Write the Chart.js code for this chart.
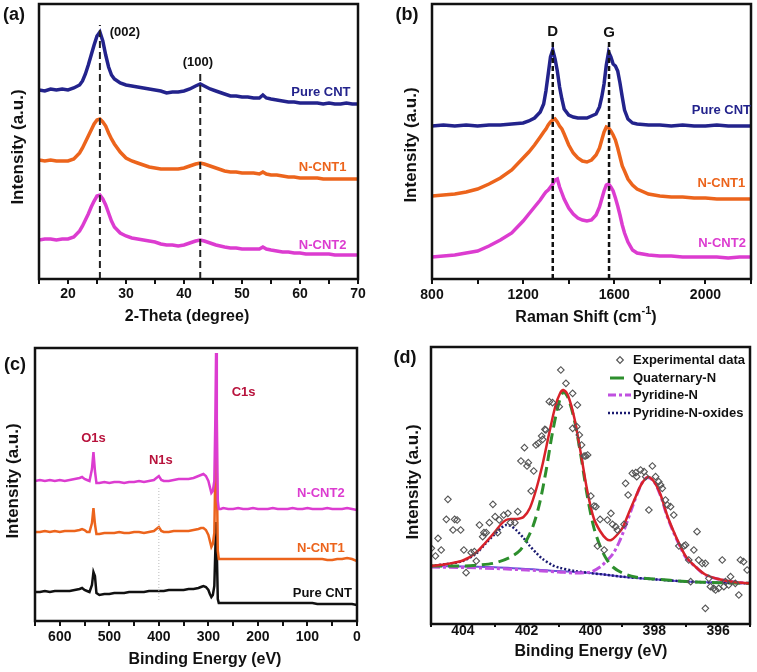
<!DOCTYPE html>
<html>
<head>
<meta charset="utf-8">
<script src="https://cdn.jsdelivr.net/npm/chart.js@4.4.1/dist/chart.umd.min.js"></script>
<style>
  html, body { margin: 0; padding: 0; background: #fff; }
  #wrap { position: relative; width: 757px; height: 672px; overflow: hidden; }
  canvas { position: absolute; }
</style>
</head>
<body>
<div id="wrap">
  <canvas id="chartA" width="378" height="330" style="left:0;top:0"></canvas>
  <canvas id="chartB" width="379" height="330" style="left:378px;top:0"></canvas>
  <canvas id="chartC" width="378" height="342" style="left:0;top:330px"></canvas>
  <canvas id="chartD" width="379" height="342" style="left:378px;top:330px"></canvas>
</div>
<script>
// ---- (a) XRD, stacked traces (a.u.) ----
var xrdTheta = [15,16,17,18,19,20,21,22,22.5,23, 23.5,24,24.5,25,25.5,26,26.5,27,27.5,28,
  29,30,31,32,33,34,35,36,37,38, 39,40,41,42,42.8,43.5,44.5,45.5,47,48,
  49,50,51,52,53,53.6,54.2,55,56,57, 58,59,60,61,62,63,64,65,66,67, 68,69,70];
var xrdPure = [189,188,190,189,190,189,191,194,198,205, 214,224,234,243,247,238,224,212,204,200,
  196,194,193,192,191,190,189,188,186,187, 187,188,190,193,195,193,190,188,185,183,
  183,182,182,181,181,184,181,180,179,178, 177,177,176,176,176,176,175,176,175,175, 176,175,175];
var xrdNCNT1 = [119,118,119,118,118,118,120,126,131,137, 143,149,155,159,160,157,153,146,140,135,
  127,121,118,116,114,112,111,110,110,110, 110,111,113,115,116,115,113,111,108,107,
  107,106,106,106,105,107,105,104,104,103, 102,102,101,101,101,101,100,100,100,100, 100,100,100];
var xrdNCNT2 = [39,40,40,39,40,40,42,48,53,59, 65,72,78,83,84,80,74,66,58,52,
  46,43,41,40,39,38,37,35,34,34, 33,34,36,38,39,38,36,34,32,31,
  31,30,30,30,30,32,30,29,28,27, 27,26,26,25,25,25,25,25,24,24, 24,24,24];
var xrdPeakPos = [25.5, 42.8];
var xrdPeakTop = [254, 205];

// ---- (b) Raman ----
var ramanShift = [800,850,900,950,1000,1050,1100,1150,1200,1225, 1250,1275,1290,1300,1310,1320,1330,1340,1350,1360,
  1370,1380,1400,1420,1440,1460,1480,1500,1520,1535, 1545,1555,1565,1575,1585,1595,1605,1615,1625,1635,
  1645,1660,1680,1700,1750,1800,1850,1900,1950,2000, 2050,2100,2150,2200];
var ramanPure = [153,154,153,154,153,154,154,155,156,158, 161,167,175,188,205,222,229,220,208,192,
  180,170,164,162,161,161,161,163,165,172, 182,195,214,227,222,215,213,208,196,182,
  169,160,156,155,154,154,153,154,153,153, 154,153,153,153];
var ramanNCNT1 = [83,84,85,87,90,95,101,109,121,127, 134,142,147,150,154,157,159,160,157,153,
  150,145,134,126,121,118,117,119,124,131, 139,147,152,151,148,144,139,131,122,113,
  108,100,94,90,85,83,82,82,81,81, 80,80,80,80];
var ramanNCNT2 = [22,23,24,26,28,33,39,46,58,65, 72,79,84,87,89,92,95,99,100,92,
  86,80,71,65,61,59,58,59,64,72, 80,88,94,95,92,88,81,73,64,54,
  46,37,29,26,24,23,23,22,22,22, 22,21,22,22];
var ramanBandPos = [1330, 1577];
var ramanBandTop = [237, 237];

// ---- (c) XPS survey ----
var xpsEnergy = [650,640,630,620,610,600,590,580,570,560, 555,550,545,540,535,532,529,526,520,510,
  500,490,480,470,460,450,440,430,420,410, 405,400,395,390,380,370,360,350,340,330,
  320,315,310,305,300,297,294,291,288,286, 284.5,283,281,279,275,270,260,250,240,230,
  220,210,200,190,180,170,160,150,140,130, 120,110,100,90,80,70,60,50,40,30, 20,10,0];
var xpsNCNT2 = [140,141,140,141,140,141,140,141,142,143, 144,142,141,140,152,169,150,138,138,139,
  138,139,139,138,139,139,140,139,140,141, 143,145,141,140,140,141,142,142,142,143,
  145,146,147,145,140,134,128,130,140,200, 268,200,120,112,112,113,112,112,113,112,
  112,113,112,112,112,113,112,112,112,113, 112,112,113,112,112,112,113,112,112,112, 113,112,111];
var xpsNCNT1 = [89,89,90,89,90,89,90,90,90,91, 92,91,89,89,98,113,97,87,87,88,
  88,88,89,88,88,89,89,88,89,90, 92,94,90,89,89,90,90,90,90,91,
  92,93,93,91,86,80,74,77,88,150, 201,150,70,62,62,62,62,62,62,62,
  62,62,62,62,62,62,62,62,62,62, 62,62,62,62,62,62,61,61,62,62, 63,62,60];
var xpsPure = [29,29,30,29,30,30,30,30,31,32, 33,31,30,29,36,49,45,28,26,27,
  27,28,28,28,29,29,29,29,30,30, 30,30,30,30,31,31,31,31,32,32,
  33,34,35,34,31,27,24,26,35,70, 99,70,22,18,18,18,18,18,18,18,
  18,18,18,18,18,18,18,18,18,18, 18,18,18,18,17,17,17,17,17,17, 17,17,16];
var xpsGuidePos = [400];
var xpsGuideSpan = [[21, 133]];

// ---- (d) N1s fit ----
var n1sExpX = [404.99,404.86,404.78,404.68,404.52,404.47,404.31,404.26,404.18,404.07,403.97,403.90,403.74,403.64,
  403.58,403.48,403.38,403.34,403.27,403.17,403.06,402.99,402.91,402.86,402.72,402.59,402.51,402.37,402.28,
  402.18,402.07,401.99,401.95,401.86,401.78,401.71,401.64,401.53,401.50,401.43,401.40,401.29,401.19,400.98,
  400.93,400.77,400.56,400.56,400.43,400.41,400.35,400.28,400.20,400.15,400.09,399.99,399.89,399.83,399.78,
  399.70,399.57,399.47,399.36,399.31,399.21,399.16,398.95,398.90,398.82,398.69,398.58,398.55,398.43,398.32,
  398.27,398.17,398.06,397.96,397.86,397.80,397.75,397.65,397.59,397.49,397.39,397.23,397.07,397.02,396.92,
  396.86,396.76,396.66,396.61,396.50,396.40,396.40,396.29,396.24,396.14,396.08,395.98,395.87,395.82,395.77,
  395.67,395.61,395.46,395.35,395.30,395.20,395.09];
var n1sExpY = [75.7,68,85.7,74,104.7,124.7,94,104.7,104,94,74,51.3,71.3,72.3,
  63,99,87.3,91.3,91.3,101.3,119.7,107.3,91.3,104,109,110.7,101.3,101.3,112.3,
  163,176.3,158,161.3,133,153,179,180.7,188,184.7,194.7,194,222.3,221.3,217.3,
  254,240.7,230.7,195.7,197.3,219,189,179,168,168,169,128,118,117.3,78,
  104.7,74,104,110.7,99.7,97.3,94,99.7,140.7,129,150.7,151.3,147.3,154,152.3,
  147.3,114,158,147.3,142.3,139,135.7,124,119,117.3,109,78,78,79,64,
  42.3,74,92.3,64,60.7,60.7,15.7,45.7,37.3,35.7,34,35.7,64,37.3,42.3,
  39,47.3,40.7,29,64,62.3,54];
var envX = [405,404.5,404,403.6,403.3,403,402.8,402.65,402.5,402.3,402.1,401.9,401.7,401.5,401.3,401.1,400.95,400.85,
  400.7,400.5,400.3,400.1,399.9,399.7,399.5,399.35,399.2,399,398.8,398.6,398.4,398.2,398,397.8,397.6,397.4,397.2,
  397,396.7,396.4,396,395.5,395];
var envY = [58,60,63.5,71,81,92,100,104,105,105,107,116,135,160,190,218,231,234,
  228,205,170,133,106,93,85,84,88,96,111,126,140,147,142,129,109,93,79,
  67,57,49.5,45,42,40.7];
var quatX = [405,404,403.5,403,402.5,402.2,402,401.8,401.6,401.4,401.2,401,400.85,400.7,400.5,400.3,400.1,399.9,
  399.7,399.5,399.3,399,398.6,398,397,396,395];
var quatY = [58,58,59,61,67,74,84,98,120,152,190,220,232,226,203,168,128,97,
  78,65,57,51,47,45,42.5,41.3,40.7];
var pyrX = [405,404,403,402,401,400.5,400,399.7,399.5,399.3,399.1,398.9,398.7,398.5,398.35,398.2,398,397.8,397.6,
  397.4,397.2,397,396.7,396.4,396,395.5,395];
var pyrY = [57,56.5,55.5,54,52,51,52,57,63,70,82,98,116,133,143,146.5,142,128,108,
  92,78,66,57,49,45,42,40.7];
var oxideX = [405,404.5,404,403.6,403.3,403,402.8,402.65,402.5,402.3,402.1,401.9,401.7,401.5,401.2,401,400.5,400,
  399,398,397,396,395];
var oxideY = [58,60,63,70,80,90,96,99,98,93,86,78,71,65,59,56.5,53,51,
  47.3,44.7,42.5,41.3,40.7];
var baseX = [405,403,401,400,399,398,397,395];
var baseY = [58,56.7,53,51,47.3,44.7,42.5,40.7];
var n1sNames = ['Experimental data', 'Quaternary-N', 'Pyridine-N', 'Pyridine-N-oxides'];

var FONT = '"Liberation Sans", Arial, Helvetica, sans-serif';
var NAVY = '#23238c', ORANGE = '#ec641c', MAGENTA = '#dc3cd0', INK = '#111111';

function pairs(xs, ys) {
    return xs.map(function (x, i) { return { x: x, y: ys[i] }; });
}

function trace(xs, ys, color, width) {
    return { data: pairs(xs, ys), borderColor: color, borderWidth: width, pointRadius: 0, tension: 0, fill: false };
}

function vline(x, lo, hi, color, width, dash) {
    return { data: [{ x: x, y: lo }, { x: x, y: hi }], borderColor: color, borderWidth: width,
        borderDash: dash, pointRadius: 0, fill: false };
}

// frame, panel letter, axis titles and text notes
var panelDecor = {
    id: 'panelDecor',
    afterDraw: function (chart, args, o) {
        var ctx = chart.ctx, a = chart.chartArea, sx = chart.scales.x, sy = chart.scales.y;
        ctx.save();
        ctx.strokeStyle = INK;
        ctx.lineWidth = 2.5;
        ctx.strokeRect(a.left, a.top, a.right - a.left, a.bottom - a.top);

        ctx.fillStyle = INK;
        ctx.textAlign = 'center';
        ctx.textBaseline = 'middle';
        ctx.font = 'bold 18px ' + FONT;
        ctx.fillText(o.letter, o.letterAt[0], o.letterAt[1]);

        // x title, may carry a superscript part
        var total = 0;
        o.xTitle.forEach(function (p) {
            ctx.font = 'bold ' + (p.size || 16) + 'px ' + FONT;
            p.w = ctx.measureText(p.t).width;
            total += p.w;
        });
        var cx = o.xTitleAt[0] - total / 2;
        ctx.textAlign = 'left';
        o.xTitle.forEach(function (p) {
            ctx.font = 'bold ' + (p.size || 16) + 'px ' + FONT;
            ctx.fillText(p.t, cx, o.xTitleAt[1] + (p.dy || 0));
            cx += p.w;
        });

        ctx.save();
        ctx.translate(o.yTitleAt[0], o.yTitleAt[1]);
        ctx.rotate(-Math.PI / 2);
        ctx.textAlign = 'center';
        ctx.font = 'bold 17px ' + FONT;
        ctx.fillText('Intensity (a.u.)', 0, 0);
        ctx.restore();

        ctx.textAlign = 'center';
        (o.notes || []).forEach(function (n) {
            ctx.fillStyle = n.color || INK;
            ctx.font = 'bold ' + (n.size || 13) + 'px ' + FONT;
            ctx.fillText(n.text, sx.getPixelForValue(n.x), sy.getPixelForValue(n.y));
        });

        if (o.legend) {
            var L = o.legend;
            ctx.textAlign = 'left';
            ctx.font = 'bold 13px ' + FONT;
            L.items.forEach(function (it, i) {
                var y = L.rows[i];
                ctx.save();
                if (it.kind === 'marker') {
                    ctx.strokeStyle = it.color;
                    ctx.lineWidth = 1.2;
                    ctx.beginPath();
                    ctx.moveTo(L.markX, y - 3.3); ctx.lineTo(L.markX + 3.3, y);
                    ctx.lineTo(L.markX, y + 3.3); ctx.lineTo(L.markX - 3.3, y);
                    ctx.closePath();
                    ctx.stroke();
                } else {
                    ctx.strokeStyle = it.color;
                    ctx.lineWidth = it.width;
                    ctx.setLineDash(it.dash);
                    ctx.beginPath();
                    ctx.moveTo(it.from, y); ctx.lineTo(it.to, y);
                    ctx.stroke();
                }
                ctx.restore();
                ctx.fillStyle = INK;
                ctx.fillText(it.label, L.textX, y);
            });
        }
        ctx.restore();
    }
};

function panelOptions(c) {
    return {
        responsive: false,
        animation: false,
        events: [],
        layout: { padding: c.pad },
        plugins: { legend: { display: false }, tooltip: { enabled: false }, panelDecor: c.decor },
        scales: {
            x: {
                type: 'linear',
                min: c.min,
                max: c.max,
                reverse: !!c.reverse,
                afterFit: function (s) { s.height = c.axisH; },
                border: { display: false },
                grid: { drawOnChartArea: false, drawTicks: true, tickLength: c.tickLen, color: INK, tickColor: INK, lineWidth: 2 },
                ticks: {
                    stepSize: c.step,
                    autoSkip: false,
                    maxRotation: 0,
                    padding: c.tickPad,
                    color: INK,
                    font: { family: FONT, size: 14, weight: 'bold' },
                    callback: function (v) { return Math.abs(v % c.labelEvery) < 1e-9 ? v : ''; }
                }
            },
            y: { display: false, min: 0, max: c.yMax }
        }
    };
}

// (a)
var setsA = xrdPeakPos.map(function (p, i) { return vline(p, 0, xrdPeakTop[i], '#222', 2, [7, 4]); });
setsA.push(trace(xrdTheta, xrdPure, NAVY, 3.5));
setsA.push(trace(xrdTheta, xrdNCNT1, ORANGE, 3.5));
setsA.push(trace(xrdTheta, xrdNCNT2, MAGENTA, 3.5));
new Chart(document.getElementById('chartA'), {
    type: 'line',
    data: { datasets: setsA },
    options: panelOptions({
        pad: { top: 4, right: 20, left: 39, bottom: 0 }, axisH: 51, min: 15, max: 70, step: 5, labelEvery: 10,
        tickLen: 5, tickPad: 2, yMax: 275,
        decor: {
            letter: '(a)', letterAt: [14, 15], xTitle: [{ t: '2-Theta (degree)' }], xTitleAt: [187, 317], yTitleAt: [18, 147],
            notes: [
                { text: '(002)', x: 29.8, y: 247 }, { text: '(100)', x: 42.4, y: 217 },
                { text: 'Pure CNT', x: 63.6, y: 187, color: NAVY },
                { text: 'N-CNT1', x: 63.9, y: 112, color: ORANGE },
                { text: 'N-CNT2', x: 63.9, y: 34, color: MAGENTA }
            ]
        }
    }),
    plugins: [panelDecor]
});

// (b)
var setsB = ramanBandPos.map(function (p, i) { return vline(p, 0, ramanBandTop[i], '#111', 2.5, [5, 3]); });
setsB.push(trace(ramanShift, ramanPure, NAVY, 3.5));
setsB.push(trace(ramanShift, ramanNCNT1, ORANGE, 3.5));
setsB.push(trace(ramanShift, ramanNCNT2, MAGENTA, 3.5));
new Chart(document.getElementById('chartB'), {
    type: 'line',
    data: { datasets: setsB },
    options: panelOptions({
        pad: { top: 4, right: 6, left: 54, bottom: 0 }, axisH: 51, min: 800, max: 2200, step: 200, labelEvery: 400,
        tickLen: 5, tickPad: 3, yMax: 275,
        decor: {
            letter: '(b)', letterAt: [29, 15],
            xTitle: [{ t: 'Raman Shift (cm' }, { t: '-1', size: 11, dy: -7 }, { t: ')' }], xTitleAt: [208, 318],
            yTitleAt: [33, 145],
            notes: [
                { text: 'D', x: 1330, y: 247, size: 15 }, { text: 'G', x: 1577, y: 246, size: 15 },
                { text: 'Pure CNT', x: 2070, y: 169, color: NAVY },
                { text: 'N-CNT1', x: 2070, y: 96, color: ORANGE },
                { text: 'N-CNT2', x: 2073, y: 36, color: MAGENTA }
            ]
        }
    }),
    plugins: [panelDecor]
});

// (c)
var setsC = xpsGuidePos.map(function (p, i) { return vline(p, xpsGuideSpan[i][0], xpsGuideSpan[i][1], '#bbbbbb', 1, [1, 2]); });
setsC.push(trace(xpsEnergy, xpsNCNT2, MAGENTA, 2.5));
setsC.push(trace(xpsEnergy, xpsNCNT1, ORANGE, 2.5));
setsC.push(trace(xpsEnergy, xpsPure, INK, 2.5));
var CRIMSON = '#b8123c';
new Chart(document.getElementById('chartC'), {
    type: 'line',
    data: { datasets: setsC },
    options: panelOptions({
        pad: { top: 18, right: 21, left: 35, bottom: 0 }, axisH: 51, min: 0, max: 650, reverse: true, step: 50, labelEvery: 100,
        tickLen: 5, tickPad: 3, yMax: 273,
        decor: {
            letter: '(c)', letterAt: [15, 35], xTitle: [{ t: 'Binding Energy (eV)' }], xTitleAt: [205, 330], yTitleAt: [13, 151],
            notes: [
                { text: 'C1s', x: 229, y: 229, color: CRIMSON }, { text: 'O1s', x: 532, y: 183, color: CRIMSON },
                { text: 'N1s', x: 396, y: 161, color: CRIMSON },
                { text: 'N-CNT2', x: 73, y: 128, color: MAGENTA },
                { text: 'N-CNT1', x: 73, y: 73, color: ORANGE },
                { text: 'Pure CNT', x: 70, y: 28, color: INK }
            ]
        }
    }),
    plugins: [panelDecor]
});

// (d)
var RED = '#d8222a', GREEN = '#2d8f2d', VIOLET = '#c050e0', DNAVY = '#1a1a70', BASE = '#6a52d8';
var setsD = [
    { data: pairs(n1sExpX, n1sExpY), showLine: false, pointStyle: 'rectRot', pointRadius: 3.3,
      pointBorderWidth: 1.1, pointBorderColor: '#555', pointBackgroundColor: 'rgba(255,255,255,0)' },
    Object.assign(trace(envX, envY, RED, 2.5), { tension: 0.3 }),
    Object.assign(trace(quatX, quatY, GREEN, 3), { tension: 0.3, borderDash: [11, 6] }),
    Object.assign(trace(pyrX, pyrY, VIOLET, 3), { tension: 0.3, borderDash: [9, 3, 3, 3] }),
    Object.assign(trace(oxideX, oxideY, DNAVY, 2.5), { tension: 0.3, borderDash: [2, 2] }),
    Object.assign(trace(baseX, baseY, BASE, 2), { tension: 0.3 })
];
new Chart(document.getElementById('chartD'), {
    type: 'line',
    data: { datasets: setsD },
    options: panelOptions({
        pad: { top: 17, right: 7, left: 53, bottom: 0 }, axisH: 48, min: 395, max: 405, reverse: true, step: 1, labelEvery: 2,
        tickLen: 3, tickPad: -4, yMax: 277,
        decor: {
            letter: '(d)', letterAt: [27, 28], xTitle: [{ t: 'Binding Energy (eV)' }], xTitleAt: [213, 322], yTitleAt: [35, 152],
            legend: {
                rows: [30, 48, 65, 83], textX: 255, markX: 242,
                items: [
                    { kind: 'marker', label: n1sNames[0], color: '#555' },
                    { kind: 'line', label: n1sNames[1], color: GREEN, width: 3, dash: [], from: 232, to: 246 },
                    { kind: 'line', label: n1sNames[2], color: VIOLET, width: 3, dash: [8, 3, 3, 3], from: 230, to: 253 },
                    { kind: 'line', label: n1sNames[3], color: DNAVY, width: 2.5, dash: [2, 2], from: 230, to: 253 }
                ]
            }
        }
    }),
    plugins: [panelDecor]
});
</script>
</body>
</html>
